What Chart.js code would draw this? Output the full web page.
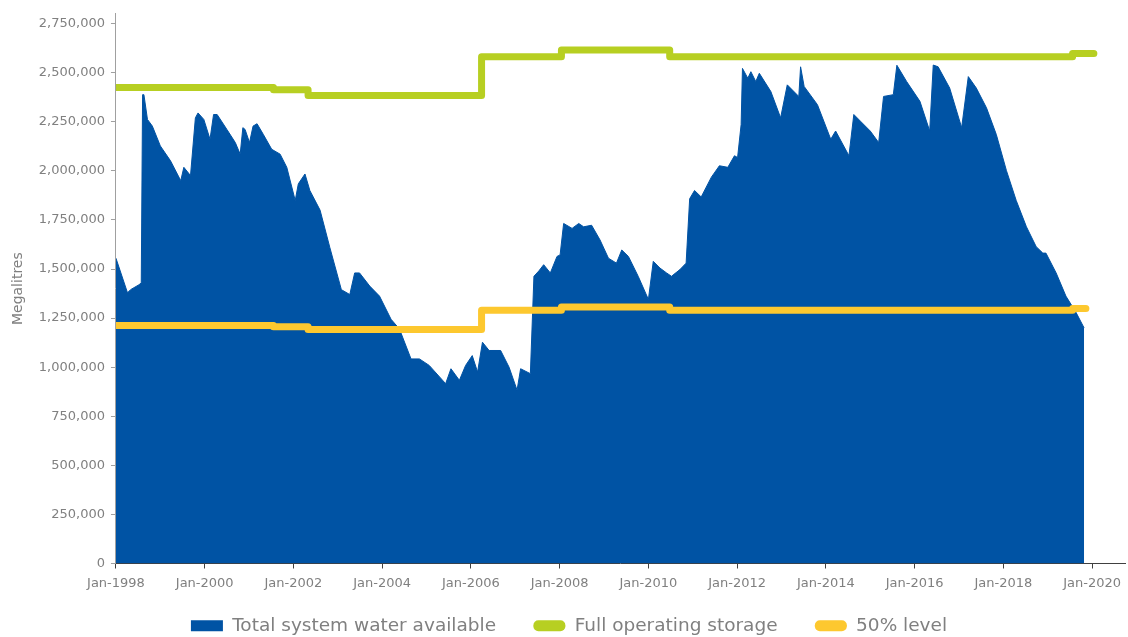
<!DOCTYPE html>
<html>
<head>
<meta charset="utf-8">
<title>Total system water available</title>
<script src="https://cdn.jsdelivr.net/npm/chart.js@4/dist/chart.umd.min.js"></script>
<style>
  html, body { margin: 0; padding: 0; background: #fff; }
  #wrap { width: 1128px; height: 637px; position: relative; }
</style>
</head>
<body>
<div id="wrap"><canvas id="chart"></canvas></div>
<script>
// Total system water available (ML)
const supplyYears = [
  1998.00, 1998.26, 1998.33, 1998.52, 1998.57, 1998.60, 1998.63, 1998.71, 1998.82, 1999.00,
  1999.23, 1999.46, 1999.53, 1999.68, 1999.79, 1999.85, 1999.98, 2000.12, 2000.20, 2000.28,
  2000.50, 2000.69, 2000.80, 2000.86, 2000.91, 2001.01, 2001.09, 2001.18, 2001.32, 2001.51,
  2001.70, 2001.85, 2002.04, 2002.11, 2002.26, 2002.37, 2002.60, 2002.82, 2003.08, 2003.27,
  2003.38, 2003.49, 2003.72, 2003.94, 2004.20, 2004.39, 2004.65, 2004.84, 2005.06, 2005.43,
  2005.55, 2005.74, 2005.88, 2006.03, 2006.15, 2006.26, 2006.41, 2006.67, 2006.86, 2007.04,
  2007.12, 2007.34, 2007.42, 2007.53, 2007.64, 2007.79, 2007.94, 2008.01, 2008.09, 2008.28,
  2008.43, 2008.54, 2008.72, 2008.91, 2009.10, 2009.28, 2009.40, 2009.55, 2009.77, 2010.00,
  2010.11, 2010.26, 2010.41, 2010.52, 2010.71, 2010.85, 2010.93, 2011.04, 2011.19, 2011.42,
  2011.60, 2011.79, 2011.94, 2012.01, 2012.09, 2012.12, 2012.24, 2012.31, 2012.42, 2012.50,
  2012.76, 2012.98, 2013.13, 2013.39, 2013.43, 2013.51, 2013.81, 2014.11, 2014.22, 2014.52,
  2014.63, 2014.78, 2015.00, 2015.19, 2015.30, 2015.52, 2015.60, 2015.82, 2016.12, 2016.34,
  2016.42, 2016.53, 2016.79, 2017.06, 2017.21, 2017.39, 2017.62, 2017.84, 2018.07, 2018.29,
  2018.52, 2018.74, 2018.89, 2018.96, 2019.19, 2019.41, 2019.64, 2019.82
];
const supplyValues = [
  1555000, 1379000, 1395000, 1420000, 1430000, 2388000, 2388000, 2262000, 2228000, 2127000,
  2051000, 1950000, 2018000, 1976000, 2270000, 2295000, 2262000, 2161000, 2287000, 2287000,
  2211000, 2144000, 2085000, 2220000, 2211000, 2144000, 2228000, 2240000, 2186000, 2110000,
  2085000, 2018000, 1849000, 1934000, 1984000, 1900000, 1800000, 1610000, 1395000, 1370000,
  1480000, 1480000, 1413000, 1362000, 1244000, 1194000, 1042000, 1042000, 1009000, 916000,
  992000, 933000, 1009000, 1059000, 975000, 1127000, 1085000, 1085000, 1000000, 883000,
  992000, 967000, 1463000, 1490000, 1522000, 1480000, 1564000, 1572000, 1732000, 1707000,
  1732000, 1715000, 1723000, 1648000, 1555000, 1530000, 1597000, 1564000, 1463000, 1345000,
  1539000, 1505000, 1480000, 1463000, 1497000, 1530000, 1858000, 1900000, 1867000, 1968000,
  2026000, 2018000, 2077000, 2068000, 2236000, 2522000, 2472000, 2505000, 2455000, 2497000,
  2404000, 2270000, 2438000, 2379000, 2530000, 2430000, 2337000, 2161000, 2203000, 2077000,
  2287000, 2253000, 2203000, 2144000, 2379000, 2388000, 2538000, 2455000, 2354000, 2203000,
  2539000, 2530000, 2422000, 2220000, 2480000, 2422000, 2321000, 2186000, 2001000, 1849000,
  1715000, 1614000, 1581000, 1581000, 1480000, 1362000, 1278000, 1200000
];

// Full operating storage and the 50% level (step changes)
const storageYears = [1998.00, 2001.55, 2002.33, 2006.24, 2008.04, 2010.48, 2019.56, 2020.04];
const storageValues = [2425000, 2413000, 2384000, 2581000, 2615000, 2581000, 2598000, 2598000];
const halfYears = [1998.00, 2001.55, 2002.33, 2006.24, 2008.04, 2010.48, 2019.56, 2019.86];
const halfValues = [1212000, 1206000, 1192000, 1290000, 1307000, 1290000, 1299000, 1299000];

const tickYears = [1998, 2000, 2002, 2004, 2006, 2008, 2010, 2012, 2014, 2016, 2018, 2020];
const tickValues = [0, 250000, 500000, 750000, 1000000, 1250000, 1500000, 1750000,
  2000000, 2250000, 2500000, 2750000];

const BLUE = '#0053a4';
const GREEN = '#b7cf22';
const YELLOW = '#fdc82f';
const TEXT = '#808080';
const FONT = "'DejaVu Sans', sans-serif";
const GAP = '\u00a0\u00a0\u00a0\u00a0\u00a0\u00a0';

const toPoints = (xs, ys) => xs.map((x, i) => ({ x: x, y: ys[i] }));

const ctx = document.getElementById('chart').getContext('2d');
new Chart(ctx, {
  type: 'line',
  data: {
    datasets: [
      {
        label: 'Total system water available',
        data: toPoints(supplyYears, supplyValues),
        borderColor: BLUE,
        backgroundColor: BLUE,
        borderWidth: 1,
        pointRadius: 0,
        fill: 'origin',
        order: 3
      },
      {
        label: 'Full operating storage',
        data: toPoints(storageYears, storageValues),
        borderColor: GREEN,
        backgroundColor: GREEN,
        borderWidth: 7,
        borderCapStyle: 'round',
        borderJoinStyle: 'round',
        stepped: true,
        pointRadius: 0,
        fill: false,
        order: 1
      },
      {
        label: '50% level',
        data: toPoints(halfYears, halfValues),
        borderColor: YELLOW,
        backgroundColor: YELLOW,
        borderWidth: 7,
        borderCapStyle: 'round',
        borderJoinStyle: 'round',
        stepped: true,
        pointRadius: 0,
        fill: false,
        order: 2
      }
    ]
  },
  options: {
    responsive: true,
    maintainAspectRatio: false,
    animation: false,
    layout: { padding: { top: 0, right: 0, bottom: -8, left: 10 } },
    scales: {
      x: {
        type: 'linear',
        min: 1998,
        max: 2020.75,
        afterBuildTicks: (axis) => {
          axis.ticks = tickYears.map(v => ({ value: v }));
        },
        ticks: {
          autoSkip: false,
          maxRotation: 0,
          padding: 7,
          color: TEXT,
          font: { family: FONT, size: 13 },
          callback: (v) => 'Jan-' + v
        },
        grid: { drawOnChartArea: false, tickLength: 5, tickColor: '#404040' },
        border: { color: '#404040', width: 1 }
      },
      y: {
        min: 0,
        max: 2800000,
        afterBuildTicks: (axis) => {
          axis.ticks = tickValues.map(v => ({ value: v }));
        },
        ticks: {
          padding: 6,
          color: TEXT,
          font: { family: FONT, size: 13 },
          callback: (v) => v.toLocaleString('en-US')
        },
        title: {
          display: true,
          text: 'Megalitres',
          color: TEXT,
          font: { family: FONT, size: 14 },
          padding: { top: 0, bottom: 6 }
        },
        grid: { drawOnChartArea: false, tickLength: 5, tickColor: '#a0a0a0' },
        border: { color: '#a0a0a0', width: 1 }
      }
    },
    plugins: {
      legend: {
        display: true,
        position: 'bottom',
        title: { display: true, text: '', font: { size: 2 }, padding: { top: 14, bottom: 0 } },
        labels: {
          color: TEXT,
          font: { family: FONT, size: 18.5 },
          boxWidth: 32,
          boxHeight: 11,
          padding: 2,
          useBorderRadius: true,
          generateLabels: (chart) => chart.data.datasets.map((ds, i) => ({
            text: i < chart.data.datasets.length - 1 ? ds.label + GAP : ds.label,
            fillStyle: ds.borderColor,
            strokeStyle: ds.borderColor,
            lineWidth: 0,
            borderRadius: i === 0 ? 0 : 5,
            fontColor: TEXT,
            hidden: false,
            datasetIndex: i
          }))
        }
      },
      tooltip: { enabled: false }
    }
  }
});
</script>
</body>
</html>
